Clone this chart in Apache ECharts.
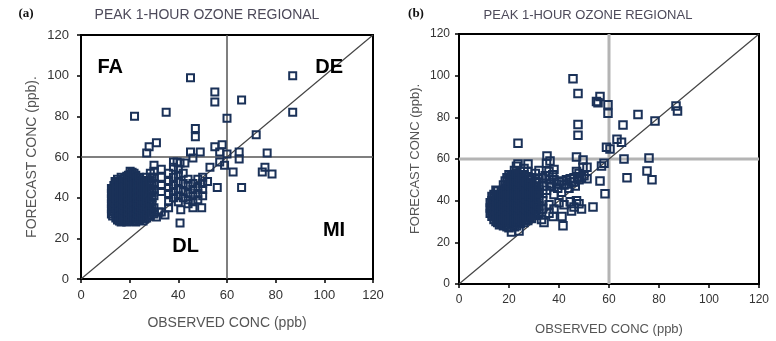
<!DOCTYPE html>
<html>
<head>
<meta charset="utf-8">
<script src="https://cdn.jsdelivr.net/npm/echarts@6/dist/echarts.min.js"></script>
<style>
  html, body { margin: 0; padding: 0; background: #ffffff; }
  #chart { width: 776px; height: 341px; }
</style>
</head>
<body>
<div id="chart"></div>
<script>
// Axis ticks shared by both panels (ppb)
const axisTicks = [0, 20, 40, 60, 80, 100, 120];
const panelTags = ['(a)', '(b)'];
const panelTitle = 'PEAK 1-HOUR OZONE REGIONAL';
const xAxisName = 'OBSERVED CONC (ppb)';
const yAxisName = 'FORECAST CONC (ppb).';
const threshold = 60;

// Quadrant names for panel (a) and where they sit in data units
const quadrantNames = ['FA', 'DE', 'DL', 'MI'];
const quadrantAnchors = [[12, 104], [102, 104], [43, 16], [104, 24]];

// Panel (a): [observed, forecast] peak 1-hour ozone pairs
const pairsA = [
  [12.5,32],[12.5,34.5],[12.5,37],[12.5,39.5],[12.5,42],[12.5,44.5],
  [13,31],[13,33.5],[13,36],[13,38.5],[13,41],[13,43.5],
  [13.5,33],[13.5,36],[13.5,38],[13.5,41],[13.5,44],[13.5,46],[14,48],
  [14.3,30],[14.3,32.5],[14.3,35],[14.3,37.5],[14.3,40],[14.3,42.5],[14.3,45],[14.3,47],
  [15,29],[15,31],[15,34],[15,36.5],[15,39],[15,41.5],[15,44],[15,47],[15,49],
  [15.8,28.5],[15.8,30],[15.8,32.5],[15.8,35],[15.8,37.5],[15.8,40],[15.8,42.5],[15.8,45.5],[15.8,48],
  [16.5,28],[16.5,30.5],[16.5,33],[16.5,35.5],[16.5,38],[16.5,40.5],[16.5,43],[16.5,45.5],[16.5,48],[16.5,50],
  [17.2,29.5],[17.2,32],[17.2,34.5],[17.2,37],[17.2,39.5],[17.2,42],[17.2,44.5],[17.2,47],[17.2,49],
  [18,29],[18,31.5],[18,34],[18,36.5],[18,39],[18,42],[18,44.5],[18,47],[18,49.5],
  [18.8,28],[18.8,30],[18.8,32.5],[18.8,35],[18.8,37.5],[18.8,40],[18.8,42.5],[18.8,45],[18.8,48],[18.8,50.5],
  [19.5,28.5],[19.5,31],[19.5,33.5],[19.5,36],[19.5,38.5],[19.5,41],[19.5,43.5],[19.5,46],[19.5,48.5],[19.5,51],
  [20.2,28.5],[20.2,30.5],[20.2,33],[20.2,35.5],[20.2,38],[20.2,40.5],[20.2,43],[20.2,45.5],[20.2,48],[20.2,51.5],[20.2,53],
  [21,29.5],[21,32],[21,34.5],[21,37],[21,39.5],[21,42],[21,44.5],[21,47],[21,50],[21,52.5],
  [21.8,28.5],[21.8,30.5],[21.8,33],[21.8,35.5],[21.8,38],[21.8,40.5],[21.8,43],[21.8,45.5],[21.8,48],[21.8,50.5],[21.8,52],
  [22.5,28],[22.5,31],[22.5,33.5],[22.5,36],[22.5,38.5],[22.5,41],[22.5,43.5],[22.5,46],[22.5,48.5],[22.5,51],
  [23.2,29.5],[23.2,32.5],[23.2,35],[23.2,37.5],[23.2,40],[23.2,42.5],[23.2,45],[23.2,47.5],[23.2,49.5],
  [24,29],[24,32],[24,34.5],[24,37],[24,40],[24,42.5],[24,45],[24,47.5],[24,50],
  [24.8,30],[24.8,33],[24.8,35.5],[24.8,38],[24.8,41],[24.8,43.5],[24.8,46.5],
  [25.5,28.5],[25.5,31],[25.5,34],[25.5,36.5],[25.5,39],[25.5,42],[25.5,45],[25.5,48.5],
  [26.2,29.5],[26.2,32.5],[26.2,35],[26.2,38],[26.2,41],[26.2,44],[26.2,47.5],
  [27,30],[27,33],[27,36],[27,39],[27,42],[27,46],[27,50],
  [27.8,31.5],[27.8,34],[27.8,37.5],[27.8,40.5],[27.8,43],[27.8,47],
  [28.5,31],[28.5,35],[28.5,38],[28.5,44],[28.5,48],[28.5,52],
  [29.2,33],[29.2,36.5],[29.2,40],[29.2,42.5],[29.2,46],[29.2,50],
  [31,30.5],[32,33],[34.5,31.5],
  [30,56],[30,53],[30,50],[30,47],[30,44],[30,41],[30,35],[30,32],
  [33,54],[33,50],[33,46],[33,43],[33,33],
  [36,52],[36,48],[36,45],[36,42],[36,38],[36,35],
  [38,55],[38,50],[38,46],[38,43],[38,40],
  [40,54],[40,51],[40,48],[40,44],[40,41],[40,38],
  [42,52],[42,47],[42,43],[42,40],
  [44,49],[44,46],[44,42],[44,39],[44,37],
  [46,47],[46,44],[46,41],[46,38],
  [48,49],[48,45],[48,42],[48,39],
  [50,50],[50,47],[50,44],[50,41],
  [52,48],[42.7,57],[40.7,57],
  [45,99],[55,92],[55,87],[66,88],[87,100],[87,82],[22,80],[35,82],[60,79],
  [72,71],[47,74],[47,70],[31,67],[28,65],[27,62],[45,62.5],[49,62.5],[46,59.5],
  [55,65],[58,66],[57,62.5],[60,61.5],[65,62.5],[65,59],[62.5,52.6],[66,45],
  [76.5,62],[74.5,52.6],[75.6,55],[78.5,51.6],[53,55],[56,45],[57,57.5],[59,56],
  [40.7,27.5],[41,34],[49.6,35],[46,35],[39.5,57.5],[38,57.5]
];

// Panel (b): [observed, forecast] peak 1-hour ozone pairs
const pairsB = [
  [12.5,34],[12.5,36.5],[12.5,39],
  [13.2,32.5],[13.2,35],[13.2,37.5],[13.2,40],[13.2,42],
  [14,31],[14,33.5],[14,36],[14,38.5],[14,41],[14,43],
  [14.8,30],[14.8,32.5],[14.8,35],[14.8,37.5],[14.8,40],[14.8,42.5],[14.8,45],
  [15.5,29.5],[15.5,32],[15.5,34.5],[15.5,37],[15.5,39.5],[15.5,42],[15.5,44.5],
  [16.2,28.5],[16.2,30.5],[16.2,33],[16.2,35.5],[16.2,38],[16.2,40.5],[16.2,43],
  [17,29],[17,31.5],[17,34],[17,36.5],[17,39],[17,41.5],[17,44],
  [17.8,28],[17.8,30],[17.8,32.5],[17.8,35],[17.8,37.5],[17.8,40],[17.8,42.5],[17.8,45],[17.8,47.5],
  [18.5,28.5],[18.5,31],[18.5,33.5],[18.5,36],[18.5,38.5],[18.5,41],[18.5,43.5],[18.5,46],[18.5,49.5],
  [19.2,27.5],[19.2,29.5],[19.2,32],[19.2,34.5],[19.2,37],[19.2,39.5],[19.2,42],[19.2,44.5],[19.2,47],[19.2,51],
  [20,27],[20,30],[20,32.5],[20,35],[20,37.5],[20,40],[20,42.5],[20,45],[20,47.5],[20,50],[20,52.5],
  [20.8,29.5],[20.8,32],[20.8,34.5],[20.8,37],[20.8,39.5],[20.8,42],[20.8,44.5],[20.8,47],[20.8,49.5],[20.8,52],
  [21.5,28.5],[21.5,31],[21.5,33.5],[21.5,36],[21.5,38.5],[21.5,41],[21.5,43.5],[21.5,46],[21.5,48.5],[21.5,51],
  [22.2,27.5],[22.2,30],[22.2,32.5],[22.2,35],[22.2,37.5],[22.2,40],[22.2,42.5],[22.2,45],[22.2,47.5],[22.2,50],[22.2,54.5],
  [23,28],[23,30.5],[23,33],[23,35.5],[23,38],[23,40.5],[23,43],[23,45.5],[23,48],[23,50.5],[23,53],[23,56.5],
  [23.8,29.5],[23.8,32],[23.8,34.5],[23.8,37],[23.8,39.5],[23.8,42],[23.8,44.5],[23.8,47],[23.8,49.5],[23.8,52],
  [24.5,29],[24.5,31.5],[24.5,34],[24.5,36.5],[24.5,39],[24.5,41.5],[24.5,44],[24.5,46.5],[24.5,49],[24.5,51.5],[24.5,54],
  [25.2,30.5],[25.2,33],[25.2,35.5],[25.2,38],[25.2,40.5],[25.2,43],[25.2,45.5],[25.2,48],[25.2,51],
  [26,29.5],[26,32],[26,34.5],[26,37],[26,39.5],[26,42],[26,44.5],[26,47],[26,50],[26,52.5],[26,55.5],
  [26.8,31],[26.8,33.5],[26.8,36],[26.8,38.5],[26.8,41],[26.8,43.5],[26.8,46],[26.8,49],
  [27.5,30.5],[27.5,33],[27.5,35.5],[27.5,38],[27.5,41],[27.5,43.5],[27.5,46],[27.5,48.5],[27.5,51.5],[27.5,54],
  [28.2,32],[28.2,34.5],[28.2,37],[28.2,40],[28.2,42.5],[28.2,45],[28.2,47.5],[28.2,50],
  [29,31.5],[29,34],[29,36.5],[29,39.5],[29,42.5],[29,45.5],[29,48],[29,51],
  [29.8,34.5],[29.8,37.5],[29.8,40.5],[29.8,43.5],[29.8,46.5],
  [30.5,33],[30.5,36],[30.5,39],[30.5,42],[30.5,45],[30.5,48.5],[30.5,53],
  [31.2,35.5],[31.2,38.5],[31.2,42.5],[31.2,45.5],[31.2,49],
  [32,34],[32,37.5],[32,41],[32,44],[32,47],[32,50.5],[32,54.5],
  [33.5,36],[33.5,40],[33.5,43.5],[33.5,47],[33.5,51],
  [21,25],[24,25.5],
  [35,45],[36.5,48],[38,43],[38,50],[39.5,46],[40,49],[41,44],[42,47.5],[43,50],
  [44,46],[45,49],[46,51],[46.5,47],[48,50],[48,53],[49.6,56],[50,52],[47,54],
  [37,47],[39,48],[41,49.5],[43,48],[44.5,50.5],[46,49],[47.5,51.5],[49,51],[36,50],[34.5,52],[37.5,52.5],
  [36,54],[35,58],[35.2,61.4],[36.4,59],[38,55],[40,39],[38,36],[36,38],[42,38],
  [44.5,39.5],[46,37],[47,40],[48,38.5],[45,35],[49,36],[53.6,37],
  [37.6,32.4],[41.2,32.4],[41.6,28],[34,29.5],[33,31],[36,34],
  [45.6,98.5],[47.6,91.4],[55,87.6],[56.4,90],[55.6,87],[59.6,86],[59.6,82],
  [71.6,81.4],[78.4,78.3],[86.8,85.5],[87.4,83],[47.6,76.6],[47.6,71.4],[23.6,67.6],
  [65.6,76.3],[63.2,69.5],[65,68],[59,65.7],[60.4,64.8],[66,60],[76,60.5],
  [75.2,54.3],[77.2,50],[67.2,51],[57,56.6],[58,58],[56.4,49.5],[58.4,43.3],
  [47,61],[49.6,59.5],[51.2,56],[51.2,50.5],[27.6,57.6],[23.6,57.6]
];

const FONT = "'Liberation Sans', Arial, sans-serif";
const MARK = '#1a3158';
const axisMin = axisTicks[0];
const axisMax = axisTicks[axisTicks.length - 1];
const axisStep = axisTicks[1] - axisTicks[0];

// Per-panel layout and styling
const panels = [
  { grid: { left: 81, top: 35, width: 292, height: 244 }, label: 13, name: 14,
    yLabelMargin: 12, yNameGap: 42, xNameGap: 37, refColor: '#555555', refWidth: 1.5,
    markSize: 7, tagX: 26, titleX: 207, titleSize: 14 },
  { grid: { left: 459, top: 34, width: 300, height: 252 }, label: 12, name: 13,
    yLabelMargin: 9, yNameGap: 37, xNameGap: 39, refColor: '#b4b4b4', refWidth: 3,
    markSize: 7.5, tagX: 416, titleX: 588, titleSize: 13 }
];
const panelData = [pairsA, pairsB];

const grids = [], xAxes = [], yAxes = [], series = [], graphics = [];

panels.forEach((p, i) => {
  grids.push(Object.assign({ show: true, borderColor: '#000', borderWidth: 2, backgroundColor: 'transparent' }, p.grid));
  const common = {
    gridIndex: i, type: 'value', min: axisMin, max: axisMax, interval: axisStep,
    nameLocation: 'middle',
    nameTextStyle: { color: '#555', fontSize: p.name, fontFamily: FONT },
    axisLine: { show: true, onZero: false, lineStyle: { color: '#000', width: 2 } },
    axisTick: { show: true, inside: false, length: 4, lineStyle: { color: '#000', width: 1.5 } },
    splitLine: { show: false }
  };
  xAxes.push(Object.assign({}, common, {
    name: xAxisName, nameGap: p.xNameGap,
    axisLabel: { color: '#333', fontSize: p.label, fontFamily: FONT, margin: 10 }
  }));
  yAxes.push(Object.assign({}, common, {
    name: yAxisName, nameGap: p.yNameGap,
    axisLabel: { color: '#333', fontSize: p.label, fontFamily: FONT, margin: p.yLabelMargin }
  }));

  const refLine = (data, color, width) => ({
    type: 'line', xAxisIndex: i, yAxisIndex: i, data, symbol: 'none', silent: true,
    lineStyle: { color, width }, z: 1, animation: false
  });
  series.push(refLine([[threshold, axisMin], [threshold, axisMax]], p.refColor, p.refWidth));
  series.push(refLine([[axisMin, threshold], [axisMax, threshold]], p.refColor, p.refWidth));
  series.push(refLine([[axisMin, axisMin], [axisMax, axisMax]], '#444444', 1.2));

  series.push({
    type: 'scatter', xAxisIndex: i, yAxisIndex: i, data: panelData[i],
    symbol: 'rect', symbolSize: p.markSize, z: 3, animation: false, silent: true,
    itemStyle: { color: 'rgba(0,0,0,0)', borderColor: MARK, borderWidth: 2, opacity: 1 }
  });

  graphics.push({ type: 'text', x: p.tagX, y: 14,
    style: { text: panelTags[i], font: "bold 13px 'Liberation Serif', serif", fill: '#111', textAlign: 'center', textVerticalAlign: 'middle' } });
  graphics.push({ type: 'text', x: p.titleX, y: 15,
    style: { text: panelTitle, font: p.titleSize + 'px ' + FONT, fill: '#4d4a5a', textAlign: 'center', textVerticalAlign: 'middle' } });
});

// Quadrant names in panel (a)
series.push({
  type: 'scatter', xAxisIndex: 0, yAxisIndex: 0, symbolSize: 0, silent: true, animation: false, z: 4,
  itemStyle: { opacity: 1 },
  data: quadrantNames.map((n, k) => ({ value: quadrantAnchors[k], name: n })),
  label: { show: true, position: 'inside', formatter: d => d.name, opacity: 1,
    color: '#000', fontSize: 20, fontWeight: 'bold', fontFamily: FONT, textBorderWidth: 0 }
});

const chart = echarts.init(document.getElementById('chart'), null, { renderer: 'canvas' });
chart.setOption({
  animation: false,
  grid: grids, xAxis: xAxes, yAxis: yAxes, series,
  graphic: graphics
});
</script>
</body>
</html>
